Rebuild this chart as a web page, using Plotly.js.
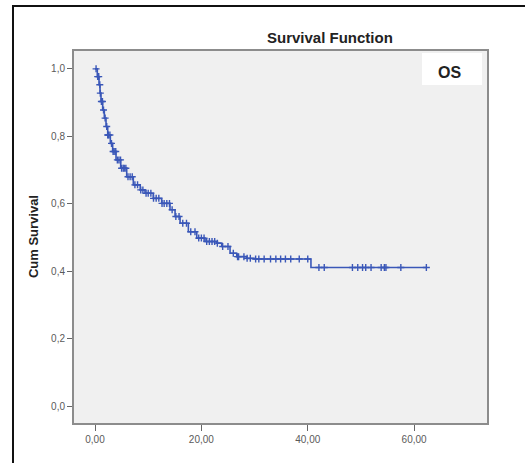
<!DOCTYPE html>
<html>
<head>
<meta charset="utf-8">
<script src="https://cdn.plot.ly/plotly-3.0.1.min.js"></script>
<style>html,body{margin:0;padding:0;background:#fff;}#chart{width:525px;height:463px;}</style>
</head>
<body>
<div id="chart"></div>
<script>
// Kaplan-Meier event times (months) and cumulative survival
var eventTimes = [0, 0.43, 0.75, 0.94, 1.13, 1.44, 1.75, 2.07, 2.39, 2.88, 3.32, 3.95, 4.83, 5.96, 7.2, 8.5, 9.4, 10.96, 12.54, 14.1, 15.05, 15.99, 17.55, 19.13, 20.69, 22.89, 23.83, 25.39, 26.65, 28.5, 29.9, 40.6, 62.3];
var survival   = [1.0, 0.977, 0.953, 0.928, 0.903, 0.878, 0.854, 0.829, 0.804, 0.779, 0.755, 0.730, 0.705, 0.680, 0.656, 0.641, 0.631, 0.616, 0.601, 0.582, 0.562, 0.542, 0.517, 0.498, 0.488, 0.483, 0.473, 0.453, 0.443, 0.438, 0.436, 0.411, 0.411];
// censored observations (times)
var censorTimes = [0.2, 0.5, 0.7, 0.9, 1.0, 1.2, 1.4, 1.6, 1.9, 2.2, 2.4, 2.5, 2.8, 3.1, 3.4, 3.6, 3.9, 4.2, 4.5, 4.8, 5.0, 5.3, 5.5, 5.8, 6.2, 6.6, 7.0, 7.5, 8.0, 8.6, 9.0, 9.6, 10.0, 10.5, 11.0, 11.5, 12.0, 12.6, 13.0, 13.5, 14.0, 14.5, 15.2, 15.8, 16.5, 17.2, 18.0, 18.8, 19.5, 20.0, 20.5, 21.0, 21.5, 22.0, 22.5, 23.0, 24.0, 25.0, 26.0, 26.8, 27.0, 28.0, 28.6, 29.2, 30.2, 30.8, 31.8, 33.0, 34.0, 34.9, 35.8, 36.8, 38.4, 40.0, 42.1, 43.1, 48.4, 49.4, 50.3, 50.9, 51.9, 53.8, 54.4, 54.7, 57.5, 62.3];
var xTickVals = [0, 20, 40, 60];
var yTickVals = [0, 0.2, 0.4, 0.6, 0.8, 1.0];

function survAt(t) {
  var s = survival[0];
  for (var i = 0; i < eventTimes.length; i++) { if (eventTimes[i] <= t) s = survival[i]; }
  return s;
}
var censorSurv = censorTimes.map(survAt);

var blue = '#3a57b8';
var font = 'Arial, "Liberation Sans", sans-serif';

var traces = [
  {x: eventTimes, y: survival, mode: 'lines', line: {shape: 'hv', color: blue, width: 1.6}, hoverinfo: 'skip', showlegend: false},
  {x: censorTimes, y: censorSurv, mode: 'markers', marker: {symbol: 'cross-thin', size: 5, line: {color: blue, width: 1.4}, color: blue}, showlegend: false}
];

var layout = {
  width: 525, height: 463,
  margin: {l: 74, r: 38, t: 51, b: 40, pad: 0},
  paper_bgcolor: '#ffffff',
  plot_bgcolor: '#f0f0f0',
  separators: ',.',
  font: {family: font, size: 10, color: '#555'},
  xaxis: {
    range: [-3.95, 73.7], tickvals: xTickVals, tickformat: '.2f',
    ticks: 'outside', ticklen: 6, tickwidth: 1, tickcolor: '#666',
    showgrid: false, zeroline: false,
    showline: true, mirror: true, linecolor: '#8c8c8c', linewidth: 2,
    tickfont: {size: 10, color: '#5a5a5a', family: font}
  },
  yaxis: {
    range: [-0.0504, 1.053], tickvals: yTickVals, tickformat: '.1f',
    ticks: 'outside', ticklen: 5, tickwidth: 1, tickcolor: '#666',
    showgrid: false, zeroline: false,
    showline: true, mirror: true, linecolor: '#8c8c8c', linewidth: 2,
    tickfont: {size: 10, color: '#5a5a5a', family: font}
  },
  shapes: [
    {type: 'rect', xref: 'paper', yref: 'paper', x0: 0.8426, x1: 0.988, y0: 0.9086, y1: 0.9946, fillcolor: '#ffffff', line: {width: 0}, layer: 'below'},
    {type: 'path', xref: 'paper', yref: 'paper', path: 'M -0.1477,-0.2 L -0.1477,1.121 L 1.2,1.121', line: {color: '#111', width: 2}}
  ],
  annotations: [
    {text: '<b>Survival Function</b>', xref: 'paper', yref: 'paper', x: 0.62, y: 1.035, showarrow: false, xanchor: 'center', yanchor: 'middle', font: {size: 15, color: '#222', family: font}},
    {text: '<b>Cum Survival</b>', xref: 'paper', yref: 'paper', x: -0.099, y: 0.5, textangle: -90, showarrow: false, xanchor: 'center', yanchor: 'middle', font: {size: 13, color: '#222', family: font}},
    {text: '<b>OS</b>', xref: 'paper', yref: 'paper', x: 0.909, y: 0.9435, showarrow: false, xanchor: 'center', yanchor: 'middle', font: {size: 16, color: '#222', family: font}}
  ]
};

Plotly.newPlot('chart', traces, layout, {displayModeBar: false, staticPlot: true});
</script>
</body>
</html>
